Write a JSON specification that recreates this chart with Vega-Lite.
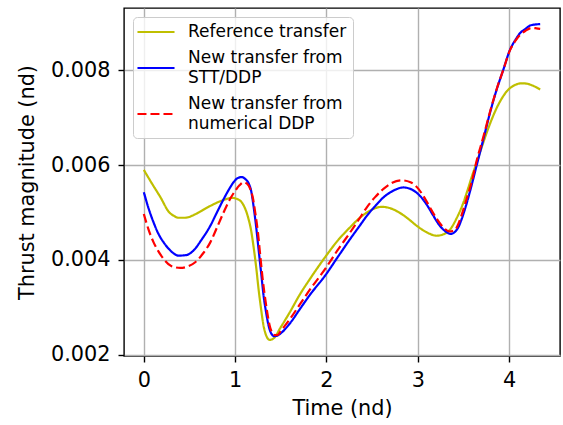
{
  "$schema": "https://vega.github.io/schema/vega-lite/v6.json",
  "width": 436,
  "height": 348,
  "autosize": {"type": "none"},
  "padding": {"left": 124, "top": 8, "right": 3, "bottom": 69},
  "background": "white",
  "datasets": {
    "curves": [
      {"s": "Reference transfer", "x": 0, "y": 0.00590},
      {"s": "Reference transfer", "x": 0.09, "y": 0.00561},
      {"s": "Reference transfer", "x": 0.18, "y": 0.00533},
      {"s": "Reference transfer", "x": 0.28, "y": 0.00500},
      {"s": "Reference transfer", "x": 0.33, "y": 0.00493},
      {"s": "Reference transfer", "x": 0.38, "y": 0.00489},
      {"s": "Reference transfer", "x": 0.45, "y": 0.00489},
      {"s": "Reference transfer", "x": 0.58, "y": 0.00498},
      {"s": "Reference transfer", "x": 0.68, "y": 0.00509},
      {"s": "Reference transfer", "x": 0.78, "y": 0.00519},
      {"s": "Reference transfer", "x": 0.88, "y": 0.00527},
      {"s": "Reference transfer", "x": 0.965, "y": 0.00531},
      {"s": "Reference transfer", "x": 1.03, "y": 0.00528},
      {"s": "Reference transfer", "x": 1.074, "y": 0.00521},
      {"s": "Reference transfer", "x": 1.11, "y": 0.00508},
      {"s": "Reference transfer", "x": 1.147, "y": 0.00486},
      {"s": "Reference transfer", "x": 1.175, "y": 0.00462},
      {"s": "Reference transfer", "x": 1.2, "y": 0.00430},
      {"s": "Reference transfer", "x": 1.23, "y": 0.00385},
      {"s": "Reference transfer", "x": 1.256, "y": 0.00339},
      {"s": "Reference transfer", "x": 1.285, "y": 0.00295},
      {"s": "Reference transfer", "x": 1.31, "y": 0.00262},
      {"s": "Reference transfer", "x": 1.345, "y": 0.00238},
      {"s": "Reference transfer", "x": 1.377, "y": 0.00231},
      {"s": "Reference transfer", "x": 1.42, "y": 0.00234},
      {"s": "Reference transfer", "x": 1.5, "y": 0.00258},
      {"s": "Reference transfer", "x": 1.6, "y": 0.00290},
      {"s": "Reference transfer", "x": 1.712, "y": 0.00328},
      {"s": "Reference transfer", "x": 1.82, "y": 0.00360},
      {"s": "Reference transfer", "x": 1.986, "y": 0.00406},
      {"s": "Reference transfer", "x": 2.12, "y": 0.00440},
      {"s": "Reference transfer", "x": 2.259, "y": 0.00469},
      {"s": "Reference transfer", "x": 2.36, "y": 0.00488},
      {"s": "Reference transfer", "x": 2.442, "y": 0.00500},
      {"s": "Reference transfer", "x": 2.53, "y": 0.00509},
      {"s": "Reference transfer", "x": 2.606, "y": 0.00512},
      {"s": "Reference transfer", "x": 2.7, "y": 0.00509},
      {"s": "Reference transfer", "x": 2.806, "y": 0.00499},
      {"s": "Reference transfer", "x": 2.9, "y": 0.00486},
      {"s": "Reference transfer", "x": 2.989, "y": 0.00472},
      {"s": "Reference transfer", "x": 3.1, "y": 0.00458},
      {"s": "Reference transfer", "x": 3.208, "y": 0.00451},
      {"s": "Reference transfer", "x": 3.28, "y": 0.00454},
      {"s": "Reference transfer", "x": 3.353, "y": 0.00464},
      {"s": "Reference transfer", "x": 3.42, "y": 0.00486},
      {"s": "Reference transfer", "x": 3.499, "y": 0.00521},
      {"s": "Reference transfer", "x": 3.536, "y": 0.00542},
      {"s": "Reference transfer", "x": 3.59, "y": 0.00575},
      {"s": "Reference transfer", "x": 3.645, "y": 0.00606},
      {"s": "Reference transfer", "x": 3.7, "y": 0.00638},
      {"s": "Reference transfer", "x": 3.755, "y": 0.00669},
      {"s": "Reference transfer", "x": 3.81, "y": 0.00697},
      {"s": "Reference transfer", "x": 3.864, "y": 0.00721},
      {"s": "Reference transfer", "x": 3.92, "y": 0.00741},
      {"s": "Reference transfer", "x": 3.974, "y": 0.00756},
      {"s": "Reference transfer", "x": 4.06, "y": 0.00769},
      {"s": "Reference transfer", "x": 4.138, "y": 0.00773},
      {"s": "Reference transfer", "x": 4.2, "y": 0.00772},
      {"s": "Reference transfer", "x": 4.247, "y": 0.00769},
      {"s": "Reference transfer", "x": 4.34, "y": 0.00760},

      {"s": "New transfer from|STT/DDP", "x": 0, "y": 0.00543},
      {"s": "New transfer from|STT/DDP", "x": 0.05, "y": 0.00510},
      {"s": "New transfer from|STT/DDP", "x": 0.107, "y": 0.00479},
      {"s": "New transfer from|STT/DDP", "x": 0.16, "y": 0.00455},
      {"s": "New transfer from|STT/DDP", "x": 0.217, "y": 0.00437},
      {"s": "New transfer from|STT/DDP", "x": 0.3, "y": 0.00418},
      {"s": "New transfer from|STT/DDP", "x": 0.38, "y": 0.00409},
      {"s": "New transfer from|STT/DDP", "x": 0.46, "y": 0.00410},
      {"s": "New transfer from|STT/DDP", "x": 0.545, "y": 0.00420},
      {"s": "New transfer from|STT/DDP", "x": 0.63, "y": 0.00442},
      {"s": "New transfer from|STT/DDP", "x": 0.728, "y": 0.00472},
      {"s": "New transfer from|STT/DDP", "x": 0.8, "y": 0.00500},
      {"s": "New transfer from|STT/DDP", "x": 0.873, "y": 0.00528},
      {"s": "New transfer from|STT/DDP", "x": 0.93, "y": 0.00548},
      {"s": "New transfer from|STT/DDP", "x": 0.983, "y": 0.00564},
      {"s": "New transfer from|STT/DDP", "x": 1.03, "y": 0.00573},
      {"s": "New transfer from|STT/DDP", "x": 1.074, "y": 0.00575},
      {"s": "New transfer from|STT/DDP", "x": 1.11, "y": 0.00571},
      {"s": "New transfer from|STT/DDP", "x": 1.147, "y": 0.00562},
      {"s": "New transfer from|STT/DDP", "x": 1.175, "y": 0.00546},
      {"s": "New transfer from|STT/DDP", "x": 1.201, "y": 0.00514},
      {"s": "New transfer from|STT/DDP", "x": 1.23, "y": 0.00470},
      {"s": "New transfer from|STT/DDP", "x": 1.256, "y": 0.00423},
      {"s": "New transfer from|STT/DDP", "x": 1.285, "y": 0.00372},
      {"s": "New transfer from|STT/DDP", "x": 1.311, "y": 0.00325},
      {"s": "New transfer from|STT/DDP", "x": 1.34, "y": 0.00288},
      {"s": "New transfer from|STT/DDP", "x": 1.365, "y": 0.00262},
      {"s": "New transfer from|STT/DDP", "x": 1.4, "y": 0.00243},
      {"s": "New transfer from|STT/DDP", "x": 1.428, "y": 0.00239},
      {"s": "New transfer from|STT/DDP", "x": 1.46, "y": 0.00240},
      {"s": "New transfer from|STT/DDP", "x": 1.493, "y": 0.00244},
      {"s": "New transfer from|STT/DDP", "x": 1.6, "y": 0.00266},
      {"s": "New transfer from|STT/DDP", "x": 1.712, "y": 0.00297},
      {"s": "New transfer from|STT/DDP", "x": 1.822, "y": 0.00327},
      {"s": "New transfer from|STT/DDP", "x": 1.986, "y": 0.00367},
      {"s": "New transfer from|STT/DDP", "x": 2.12, "y": 0.00405},
      {"s": "New transfer from|STT/DDP", "x": 2.259, "y": 0.00444},
      {"s": "New transfer from|STT/DDP", "x": 2.36, "y": 0.00471},
      {"s": "New transfer from|STT/DDP", "x": 2.442, "y": 0.00493},
      {"s": "New transfer from|STT/DDP", "x": 2.53, "y": 0.00513},
      {"s": "New transfer from|STT/DDP", "x": 2.624, "y": 0.00532},
      {"s": "New transfer from|STT/DDP", "x": 2.73, "y": 0.00546},
      {"s": "New transfer from|STT/DDP", "x": 2.843, "y": 0.00553},
      {"s": "New transfer from|STT/DDP", "x": 2.94, "y": 0.00548},
      {"s": "New transfer from|STT/DDP", "x": 3.025, "y": 0.00535},
      {"s": "New transfer from|STT/DDP", "x": 3.1, "y": 0.00516},
      {"s": "New transfer from|STT/DDP", "x": 3.171, "y": 0.00493},
      {"s": "New transfer from|STT/DDP", "x": 3.23, "y": 0.00475},
      {"s": "New transfer from|STT/DDP", "x": 3.28, "y": 0.00464},
      {"s": "New transfer from|STT/DDP", "x": 3.361, "y": 0.00455},
      {"s": "New transfer from|STT/DDP", "x": 3.42, "y": 0.00462},
      {"s": "New transfer from|STT/DDP", "x": 3.444, "y": 0.00469},
      {"s": "New transfer from|STT/DDP", "x": 3.48, "y": 0.00486},
      {"s": "New transfer from|STT/DDP", "x": 3.536, "y": 0.00520},
      {"s": "New transfer from|STT/DDP", "x": 3.572, "y": 0.00545},
      {"s": "New transfer from|STT/DDP", "x": 3.645, "y": 0.00600},
      {"s": "New transfer from|STT/DDP", "x": 3.718, "y": 0.00655},
      {"s": "New transfer from|STT/DDP", "x": 3.791, "y": 0.00711},
      {"s": "New transfer from|STT/DDP", "x": 3.864, "y": 0.00760},
      {"s": "New transfer from|STT/DDP", "x": 3.937, "y": 0.00802},
      {"s": "New transfer from|STT/DDP", "x": 4.01, "y": 0.00844},
      {"s": "New transfer from|STT/DDP", "x": 4.07, "y": 0.00865},
      {"s": "New transfer from|STT/DDP", "x": 4.12, "y": 0.00879},
      {"s": "New transfer from|STT/DDP", "x": 4.18, "y": 0.00888},
      {"s": "New transfer from|STT/DDP", "x": 4.23, "y": 0.00895},
      {"s": "New transfer from|STT/DDP", "x": 4.28, "y": 0.00897},
      {"s": "New transfer from|STT/DDP", "x": 4.34, "y": 0.00898},

      {"s": "New transfer from|numerical DDP", "x": 0, "y": 0.00497},
      {"s": "New transfer from|numerical DDP", "x": 0.05, "y": 0.00465},
      {"s": "New transfer from|numerical DDP", "x": 0.107, "y": 0.00437},
      {"s": "New transfer from|numerical DDP", "x": 0.16, "y": 0.00418},
      {"s": "New transfer from|numerical DDP", "x": 0.217, "y": 0.00402},
      {"s": "New transfer from|numerical DDP", "x": 0.3, "y": 0.00387},
      {"s": "New transfer from|numerical DDP", "x": 0.4, "y": 0.00383},
      {"s": "New transfer from|numerical DDP", "x": 0.48, "y": 0.00386},
      {"s": "New transfer from|numerical DDP", "x": 0.563, "y": 0.00395},
      {"s": "New transfer from|numerical DDP", "x": 0.65, "y": 0.00414},
      {"s": "New transfer from|numerical DDP", "x": 0.728, "y": 0.00437},
      {"s": "New transfer from|numerical DDP", "x": 0.8, "y": 0.00468},
      {"s": "New transfer from|numerical DDP", "x": 0.873, "y": 0.00500},
      {"s": "New transfer from|numerical DDP", "x": 0.94, "y": 0.00527},
      {"s": "New transfer from|numerical DDP", "x": 1.001, "y": 0.00546},
      {"s": "New transfer from|numerical DDP", "x": 1.05, "y": 0.00558},
      {"s": "New transfer from|numerical DDP", "x": 1.092, "y": 0.00564},
      {"s": "New transfer from|numerical DDP", "x": 1.13, "y": 0.00561},
      {"s": "New transfer from|numerical DDP", "x": 1.165, "y": 0.00550},
      {"s": "New transfer from|numerical DDP", "x": 1.195, "y": 0.00530},
      {"s": "New transfer from|numerical DDP", "x": 1.22, "y": 0.00500},
      {"s": "New transfer from|numerical DDP", "x": 1.25, "y": 0.00457},
      {"s": "New transfer from|numerical DDP", "x": 1.275, "y": 0.00409},
      {"s": "New transfer from|numerical DDP", "x": 1.3, "y": 0.00362},
      {"s": "New transfer from|numerical DDP", "x": 1.329, "y": 0.00318},
      {"s": "New transfer from|numerical DDP", "x": 1.355, "y": 0.00285},
      {"s": "New transfer from|numerical DDP", "x": 1.377, "y": 0.00262},
      {"s": "New transfer from|numerical DDP", "x": 1.41, "y": 0.00245},
      {"s": "New transfer from|numerical DDP", "x": 1.439, "y": 0.00241},
      {"s": "New transfer from|numerical DDP", "x": 1.47, "y": 0.00242},
      {"s": "New transfer from|numerical DDP", "x": 1.493, "y": 0.00248},
      {"s": "New transfer from|numerical DDP", "x": 1.6, "y": 0.00275},
      {"s": "New transfer from|numerical DDP", "x": 1.712, "y": 0.00307},
      {"s": "New transfer from|numerical DDP", "x": 1.822, "y": 0.00338},
      {"s": "New transfer from|numerical DDP", "x": 1.986, "y": 0.00381},
      {"s": "New transfer from|numerical DDP", "x": 2.12, "y": 0.00420},
      {"s": "New transfer from|numerical DDP", "x": 2.259, "y": 0.00458},
      {"s": "New transfer from|numerical DDP", "x": 2.36, "y": 0.00487},
      {"s": "New transfer from|numerical DDP", "x": 2.442, "y": 0.00511},
      {"s": "New transfer from|numerical DDP", "x": 2.53, "y": 0.00532},
      {"s": "New transfer from|numerical DDP", "x": 2.624, "y": 0.00550},
      {"s": "New transfer from|numerical DDP", "x": 2.72, "y": 0.00563},
      {"s": "New transfer from|numerical DDP", "x": 2.825, "y": 0.00568},
      {"s": "New transfer from|numerical DDP", "x": 2.92, "y": 0.00564},
      {"s": "New transfer from|numerical DDP", "x": 3.007, "y": 0.00550},
      {"s": "New transfer from|numerical DDP", "x": 3.08, "y": 0.00529},
      {"s": "New transfer from|numerical DDP", "x": 3.153, "y": 0.00504},
      {"s": "New transfer from|numerical DDP", "x": 3.21, "y": 0.00486},
      {"s": "New transfer from|numerical DDP", "x": 3.263, "y": 0.00472},
      {"s": "New transfer from|numerical DDP", "x": 3.353, "y": 0.00460},
      {"s": "New transfer from|numerical DDP", "x": 3.41, "y": 0.00464},
      {"s": "New transfer from|numerical DDP", "x": 3.444, "y": 0.00476},
      {"s": "New transfer from|numerical DDP", "x": 3.48, "y": 0.00495},
      {"s": "New transfer from|numerical DDP", "x": 3.536, "y": 0.00530},
      {"s": "New transfer from|numerical DDP", "x": 3.59, "y": 0.00565},
      {"s": "New transfer from|numerical DDP", "x": 3.645, "y": 0.00610},
      {"s": "New transfer from|numerical DDP", "x": 3.718, "y": 0.00660},
      {"s": "New transfer from|numerical DDP", "x": 3.791, "y": 0.00713},
      {"s": "New transfer from|numerical DDP", "x": 3.864, "y": 0.00761},
      {"s": "New transfer from|numerical DDP", "x": 3.937, "y": 0.00802},
      {"s": "New transfer from|numerical DDP", "x": 4.01, "y": 0.00843},
      {"s": "New transfer from|numerical DDP", "x": 4.07, "y": 0.00863},
      {"s": "New transfer from|numerical DDP", "x": 4.12, "y": 0.00875},
      {"s": "New transfer from|numerical DDP", "x": 4.18, "y": 0.00884},
      {"s": "New transfer from|numerical DDP", "x": 4.247, "y": 0.00890},
      {"s": "New transfer from|numerical DDP", "x": 4.3, "y": 0.00889},
      {"s": "New transfer from|numerical DDP", "x": 4.34, "y": 0.00888}
    ]
  },
  "data": {"name": "curves"},
  "encoding": {
    "x": {
      "field": "x", "type": "quantitative",
      "scale": {"domain": [-0.217, 4.557], "nice": false, "zero": false},
      "axis": {"title": "Time (nd)", "values": [0, 1, 2, 3, 4], "format": "d", "labelPadding": 8, "titlePadding": 9}
    },
    "y": {
      "field": "y", "type": "quantitative",
      "scale": {"domain": [0.00197, 0.00932], "nice": false, "zero": false},
      "axis": {"title": "Thrust magnitude (nd)", "values": [0.002, 0.004, 0.006, 0.008], "format": ".3f", "labelPadding": 8, "titlePadding": 13}
    },
    "color": {
      "field": "s", "type": "nominal",
      "scale": {
        "domain": ["Reference transfer", "New transfer from|STT/DDP", "New transfer from|numerical DDP"],
        "range": ["#bfbf00", "#0000ff", "#ff0000"]
      },
      "legend": {
        "title": null,
        "labelExpr": "split(datum.label, '|')",
        "encode": {
          "labels": {"update": {"dy": {"signal": "indexof(datum.value, '|') >= 0 ? -10 : 0"}, "lineHeight": {"value": 20}}}
        }
      }
    },
    "strokeDash": {
      "field": "s", "type": "nominal",
      "scale": {
        "domain": ["Reference transfer", "New transfer from|STT/DDP", "New transfer from|numerical DDP"],
        "range": [[1, 0], [1, 0], [9, 4]]
      },
      "legend": {
        "title": null,
        "labelExpr": "split(datum.label, '|')",
        "encode": {
          "labels": {"update": {"dy": {"signal": "indexof(datum.value, '|') >= 0 ? -10 : 0"}, "lineHeight": {"value": 20}}}
        }
      }
    }
  },
  "layer": [
    {
      "transform": [{"filter": "datum.s === 'Reference transfer'"}],
      "mark": {"type": "line", "strokeWidth": 2.2, "interpolate": "monotone"}
    },
    {
      "transform": [{"filter": "datum.s === 'New transfer from|STT/DDP'"}],
      "mark": {"type": "line", "strokeWidth": 2.2, "interpolate": "monotone"}
    },
    {
      "transform": [{"filter": "datum.s === 'New transfer from|numerical DDP'"}],
      "mark": {"type": "line", "strokeWidth": 2.2, "interpolate": "monotone"}
    }
  ],
  "config": {
    "view": {"stroke": "black", "strokeWidth": 1.4},
    "axis": {
      "domain": false,
      "grid": true,
      "gridColor": "#b0b0b0",
      "gridWidth": 1.4,
      "ticks": true,
      "tickColor": "black",
      "tickWidth": 1.4,
      "tickSize": 6,
      "labelFont": "DejaVu Sans",
      "labelFontSize": 20.8,
      "labelColor": "black",
      "titleFont": "DejaVu Sans",
      "titleFontSize": 20.8,
      "titleFontWeight": "normal",
      "titleColor": "black"
    },
    "legend": {
      "orient": "top-left",
      "offset": 9,
      "padding": 6,
      "symbolType": "M-2.47,0H2.47",
      "symbolSize": 225,
      "symbolStrokeWidth": 2.2,
      "symbolFillColor": "transparent",
      "symbolOffset": 8,
      "labelOffset": 23,
      "labelFontSize": 17,
      "labelFont": "DejaVu Sans",
      "labelColor": "black",
      "labelLimit": 300,
      "rowPadding": 9,
      "strokeColor": "#cccccc",
      "fillColor": "rgba(255,255,255,0.8)",
      "cornerRadius": 4
    }
  }
}
